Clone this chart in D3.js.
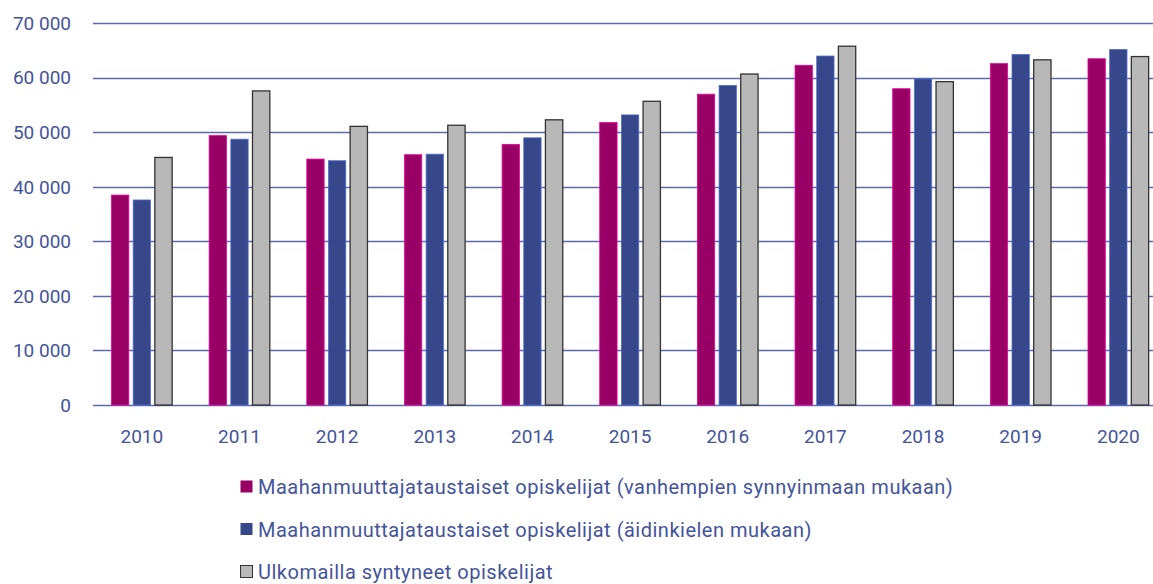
<!DOCTYPE html>
<html>
<head>
<meta charset="utf-8">
<script src="https://cdn.jsdelivr.net/npm/d3@7"></script>
<style>
  body { margin: 0; background: #fff; }
  svg text { font-family: Roboto, "DejaVu Sans", sans-serif; fill: #43549a; }
</style>
</head>
<body>
<script>
const years = ["2010", "2011", "2012", "2013", "2014", "2015", "2016", "2017", "2018", "2019", "2020"];
const seriesNames = [
  "Maahanmuuttajataustaiset opiskelijat (vanhempien synnyinmaan mukaan)",
  "Maahanmuuttajataustaiset opiskelijat (äidinkielen mukaan)",
  "Ulkomailla syntyneet opiskelijat"
];
const parentsOrigin = [38500, 49400, 45100, 45900, 47800, 51800, 57000, 62300, 58000, 62600, 63500];
const motherTongue = [37600, 48750, 44800, 46000, 49000, 53200, 58600, 64000, 59800, 64300, 65200];
const bornAbroad = [45400, 57600, 51100, 51300, 52300, 55700, 60700, 65800, 59300, 63300, 63900];
const yTicks = [0, 10000, 20000, 30000, 40000, 50000, 60000, 70000];

const colors = ["#990066", "#36478a", "#b8b8b8"];
const series = [parentsOrigin, motherTongue, bornAbroad];

const width = 1153, height = 584;
const svg = d3.select("body").append("svg")
    .attr("width", width)
    .attr("height", height);

const x0 = d3.scaleBand()
    .domain(years)
    .range([93, 93 + 11 * 97.65])
    .padding(0);

const x1 = d3.scaleBand()
    .domain([0, 1, 2])
    .range([-32.5, 32.5])
    .paddingInner(0.2)
    .paddingOuter(0.1);

const y = d3.scaleLinear()
    .domain([0, 70000])
    .range([405, 23.3]);

// gridlines
svg.append("g")
    .selectAll("line")
    .data(yTicks)
    .enter().append("line")
    .attr("x1", 93)
    .attr("x2", width)
    .attr("y1", d => Math.round(y(d)) + 0.5)
    .attr("y2", d => Math.round(y(d)) + 0.5)
    .style("stroke", "#5b6aa8")
    .style("stroke-width", 1.3);

// y tick labels
svg.append("g")
    .selectAll("text")
    .data(yTicks)
    .enter().append("text")
    .attr("x", 71)
    .attr("y", d => y(d))
    .attr("dy", "0.35em")
    .style("text-anchor", "end")
    .style("font-size", "19px")
    .text(d => d3.format(",")(d).replace(/,/g, " "));

// bars
const group = svg.append("g")
    .selectAll("g")
    .data(years)
    .enter().append("g")
    .attr("transform", d => `translate(${x0(d) + x0.bandwidth() / 2},0)`);

group.selectAll("rect")
    .data((d, i) => series.map((s, k) => ({ k: k, v: s[i] })))
    .enter().append("rect")
    .attr("x", d => x1(d.k))
    .attr("width", x1.bandwidth())
    .attr("y", d => y(d.v))
    .attr("height", d => y(0) - y(d.v))
    .style("fill", d => colors[d.k])
    .style("stroke", d => d.k === 2 ? "#333" : d3.rgb(colors[d.k]).brighter(1.2))
    .style("stroke-width", d => d.k === 2 ? 1.3 : 0.8);

// year labels
svg.append("g")
    .selectAll("text")
    .data(years)
    .enter().append("text")
    .attr("x", d => x0(d) + x0.bandwidth() / 2)
    .attr("y", 443)
    .style("text-anchor", "middle")
    .style("font-size", "19px")
    .text(d => d);

// legend
const legend = svg.append("g")
    .selectAll("g")
    .data(seriesNames)
    .enter().append("g")
    .attr("transform", (d, i) => `translate(240,${487 + i * 42.5})`);

legend.append("rect")
    .attr("x", 0.5)
    .attr("y", -6.5)
    .attr("width", 12)
    .attr("height", 12)
    .style("fill", (d, i) => colors[i])
    .style("stroke", (d, i) => i === 2 ? "#333" : "none");

legend.append("text")
    .attr("x", 18)
    .attr("y", 0)
    .attr("dy", "0.35em")
    .style("font-size", "20px")
    .style("letter-spacing", "0.5px")
    .text(d => d);
</script>
</body>
</html>
